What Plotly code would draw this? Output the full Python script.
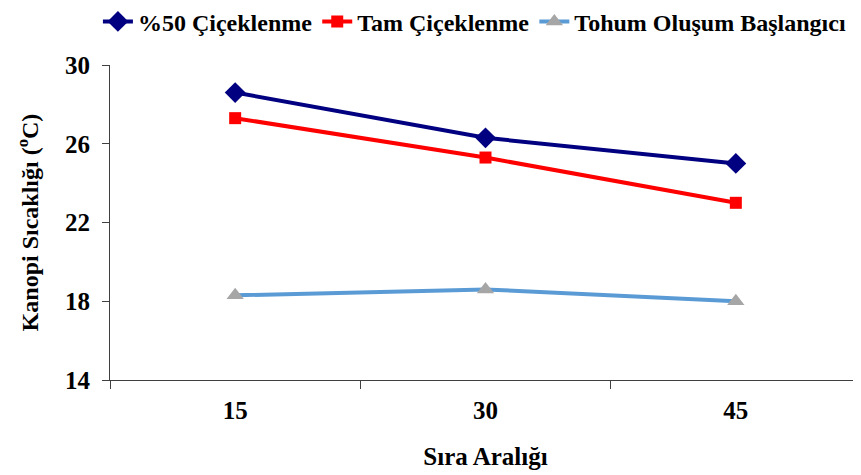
import plotly.graph_objects as go

categories = ["15", "30", "45"]
s50 = [28.6, 26.3, 25.0]
tam = [27.3, 25.3, 23.0]
tohum = [18.3, 18.6, 18.0]
y_ticks = [14, 18, 22, 26, 30]

font = "Liberation Serif"

fig = go.Figure()
fig.add_trace(go.Scatter(x=categories, y=s50, name="%50 Çiçeklenme", mode="lines+markers",
                         line=dict(color="#000080", width=4),
                         marker=dict(symbol="diamond", size=16, color="#000080")))
fig.add_trace(go.Scatter(x=categories, y=tam, name="Tam Çiçeklenme", mode="lines+markers",
                         line=dict(color="#FF0000", width=4),
                         marker=dict(symbol="square", size=12, color="#FF0000")))
fig.add_trace(go.Scatter(x=categories, y=tohum, name="Tohum Oluşum Başlangıcı", mode="lines+markers",
                         line=dict(color="#5B9BD5", width=4),
                         marker=dict(symbol="triangle-up", size=15, color="#A6A6A6")))

fig.update_layout(
    width=861, height=475,
    margin=dict(l=102, r=8, t=57, b=103, autoexpand=False),
    paper_bgcolor="white", plot_bgcolor="white",
    font=dict(family=font, color="black", weight="bold"),
    showlegend=True,
    legend=dict(orientation="h", xref="container", yref="container",
                x=0.979, xanchor="right", y=0.971, yanchor="middle",
                font=dict(family=font, size=24, color="black", weight="bold"),
                itemwidth=30, tracegroupgap=0, traceorder="normal"),
    xaxis=dict(type="category", range=[-0.5, 2.5], showline=True, linecolor="#404040", linewidth=1,
               ticks="outside", ticklen=8, tickcolor="#404040", tickson="boundaries",
               ticklabelstandoff=8,
               tickfont=dict(family=font, size=25, color="black", weight="bold"),
               title=dict(text="Sıra Aralığı", font=dict(family=font, size=25, weight="bold"), standoff=24),
               showgrid=False, zeroline=False, automargin=False),
    yaxis=dict(range=[14, 30], tickvals=y_ticks, showline=True, linecolor="#404040", linewidth=1,
               ticks="outside", ticklen=7, tickcolor="#404040",
               ticklabelstandoff=7,
               tickfont=dict(family=font, size=25, color="black", weight="bold"),
               title=dict(text="Kanopi Sıcaklığı (<sup>o</sup>C)", font=dict(family=font, size=24, weight="bold"), standoff=19),
               showgrid=False, zeroline=False, automargin=False),
)

fig.write_html("out.html")
